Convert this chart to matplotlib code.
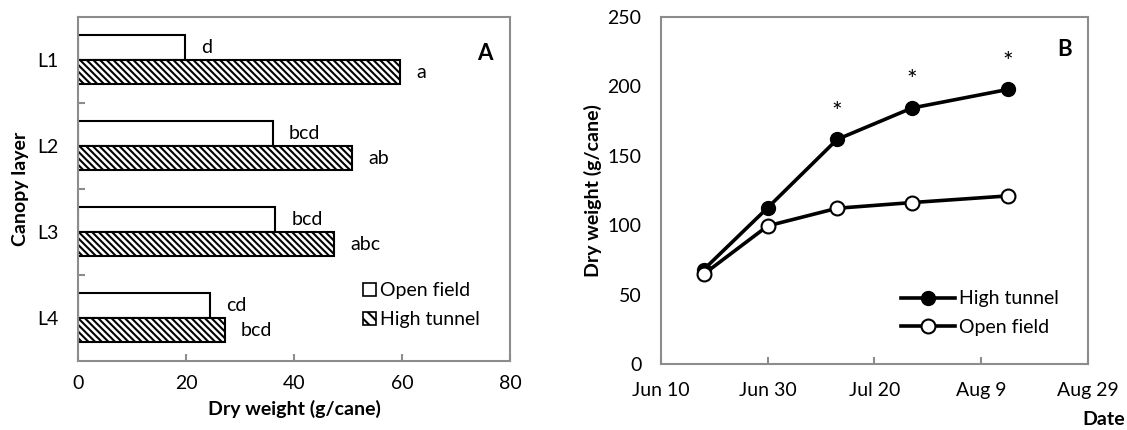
import datetime as dt
import matplotlib
matplotlib.use("Agg")
import matplotlib.pyplot as plt
import matplotlib.dates as mdates
from matplotlib.patches import Patch

plt.rcParams['font.family'] = ['Lato', 'DejaVu Sans']
plt.rcParams['hatch.linewidth'] = 1.5

# Panel A data
layers = ['L1', 'L2', 'L3', 'L4']
open_field = [19.8, 36.1, 36.5, 24.5]
high_tunnel = [59.6, 50.8, 47.4, 27.2]
letters_open = ['d', 'bcd', 'bcd', 'cd']
letters_high = ['a', 'ab', 'abc', 'bcd']

# Panel B data
dates = [dt.date(2013, 6, 18), dt.date(2013, 6, 30), dt.date(2013, 7, 13),
         dt.date(2013, 7, 27), dt.date(2013, 8, 14)]
tunnel_dw = [68, 112.6, 161.8, 184.4, 197.8]
open_dw = [64.7, 99.5, 112.2, 116.3, 121.1]
star_dates = [dt.date(2013, 7, 13), dt.date(2013, 7, 27), dt.date(2013, 8, 14)]
star_y = [181, 204, 217]
date_ticks = [dt.date(2013, 6, 10), dt.date(2013, 6, 30), dt.date(2013, 7, 20),
              dt.date(2013, 8, 9), dt.date(2013, 8, 29)]

spine_col = '#8c8c8c'
fs = 14

fig = plt.figure(figsize=(11.27, 4.30), dpi=100)

# ---- Panel A: horizontal bars
ax1 = fig.add_axes([0.0692, 0.1605, 0.3833, 0.80])
ypos = list(range(len(layers)))
h = 0.285
y_open = [y - h / 2 for y in ypos]
y_high = [y + h / 2 for y in ypos]
ax1.barh(y_open, open_field, height=h, color='white', edgecolor='black', linewidth=1.5)
ax1.barh(y_high, high_tunnel, height=h, color='white', edgecolor='black', linewidth=1.5,
         hatch='\\' * 5)
for y, v, t in zip(y_open, open_field, letters_open):
    ax1.text(v + 3, y, t, ha='left', va='center', fontsize=fs)
for y, v, t in zip(y_high, high_tunnel, letters_high):
    ax1.text(v + 3, y, t, ha='left', va='center', fontsize=fs)

ax1.set_xlim(0, 80)
ax1.set_ylim(len(layers) - 0.5, -0.5)
ax1.set_xticks([0, 20, 40, 60, 80])
ax1.set_yticks(ypos)
ax1.set_yticklabels(layers)
ax1.set_yticks([0.5, 1.5, 2.5], minor=True)
ax1.tick_params(axis='y', which='major', length=0, pad=14, labelsize=fs)
ax1.tick_params(axis='y', which='minor', direction='in', length=5, width=1.5, color=spine_col)
ax1.tick_params(axis='x', direction='in', length=5, width=1.5, color=spine_col,
                labelsize=fs, pad=10)
for s in ax1.spines.values():
    s.set_color(spine_col)
    s.set_linewidth(1.5)
ax1.set_xlabel('Dry weight (g/cane)', fontsize=fs, fontweight='bold', labelpad=6)
ax1.set_ylabel('Canopy layer', fontsize=fs, fontweight='bold', labelpad=6)
ax1.text(0.942, 0.894, 'A', transform=ax1.transAxes, ha='center', va='center',
         fontsize=16, fontweight='bold')
ax1.legend(handles=[Patch(facecolor='white', edgecolor='black', linewidth=1.2),
                    Patch(facecolor='white', edgecolor='black', linewidth=1.2,
                          hatch='\\' * 3)],
           labels=['Open field', 'High tunnel'],
           loc='lower left', bbox_to_anchor=(0.62, 0.045), frameon=False,
           handlelength=0.65, handleheight=0.65, handletextpad=0.2,
           labelspacing=0.6, fontsize=fs)

# ---- Panel B: lines over dates
ax2 = fig.add_axes([0.5865, 0.1535, 0.3789, 0.807])
ax2.plot(dates, tunnel_dw, color='black', linewidth=2.6, marker='o', markersize=10,
         markerfacecolor='black', markeredgecolor='black', label='High tunnel')
ax2.plot(dates, open_dw, color='black', linewidth=2.6, marker='o', markersize=10,
         markerfacecolor='white', markeredgecolor='black', markeredgewidth=1.5,
         label='Open field')
for d, y in zip(star_dates, star_y):
    ax2.text(mdates.date2num(d), y, '*', ha='center', va='center', fontsize=18)

ax2.set_xlim(mdates.date2num(date_ticks[0]), mdates.date2num(date_ticks[-1]))
ax2.set_ylim(0, 250)
ax2.set_xticks([mdates.date2num(d) for d in date_ticks])
ax2.set_xticklabels([d.strftime('%b ') + str(d.day) for d in date_ticks])
ax2.set_yticks([0, 50, 100, 150, 200, 250])
ax2.tick_params(axis='x', direction='in', length=5, width=1.5, color=spine_col,
                labelsize=fs, pad=13)
ax2.tick_params(axis='y', length=0, labelsize=fs, pad=14)
for s in ax2.spines.values():
    s.set_color(spine_col)
    s.set_linewidth(1.5)
ax2.set_ylabel('Dry weight (g/cane)', fontsize=fs, fontweight='bold', labelpad=4)
ax2.text(0.945, 0.906, 'B', transform=ax2.transAxes, ha='center', va='center',
         fontsize=16, fontweight='bold')
ax2.legend(loc='lower left', bbox_to_anchor=(0.52, 0.03), frameon=False,
           handlelength=2.8, handletextpad=0.2, labelspacing=0.6, fontsize=fs)
fig.text(0.998, 0.025, 'Date', ha='right', va='center', fontsize=fs, fontweight='bold')

fig.savefig('out.png', dpi=100)
